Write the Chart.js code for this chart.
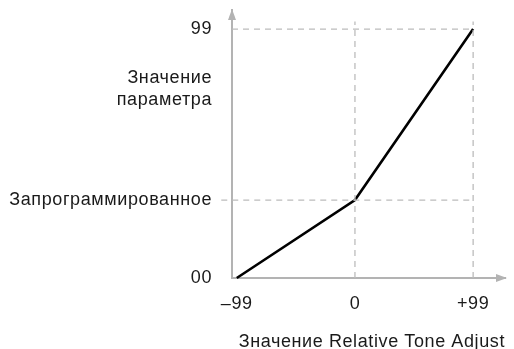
<!DOCTYPE html>
<html><head><meta charset="utf-8">
<script src="https://cdn.jsdelivr.net/npm/chart.js@4/dist/chart.umd.min.js"></script>
<style>html,body{margin:0;padding:0;background:#fff}#wrap{width:514px;height:349px}</style>
</head><body><div id="wrap"><canvas id="c" width="514" height="349"></canvas></div>
<script>
const curveX = [-99, 0, 99];
const curveY = [0, 31, 99];
const xTickValues = [-99, 0, 99];
const xTickLabels = ['–99', '0', '+99'];
const yTickValues = [0, 31, 75, 99];
const yTickLabels = ['00', 'Запрограммированное', ['Значение', 'параметра'], '99'];
const xTitle = 'Значение Relative Tone Adjust';
const guideTop = 102;
const programmedLeft = -112;

const axisGray = '#b3b3b3';
const dashGray = '#bcbcbc';
const font = {family: '"Liberation Sans", Arial, sans-serif', size: 18};

const guide = (pts) => ({data: pts, borderColor: dashGray, borderWidth: 1.3, borderDash: [6, 5], pointRadius: 0, fill: false, clip: false});

const arrows = {
  id: 'arrows',
  beforeDraw(chart) { chart.ctx.letterSpacing = '0.6px'; },
  afterDraw(chart) {
    const {ctx, chartArea: a} = chart;
    ctx.save();
    ctx.fillStyle = axisGray;
    ctx.beginPath();
    ctx.moveTo(a.left, a.top - 1); ctx.lineTo(a.left - 4, a.top + 10); ctx.lineTo(a.left + 4, a.top + 10); ctx.closePath(); ctx.fill();
    ctx.beginPath();
    ctx.moveTo(a.right + 2, a.bottom); ctx.lineTo(a.right - 9, a.bottom - 4); ctx.lineTo(a.right - 9, a.bottom + 4); ctx.closePath(); ctx.fill();
    ctx.restore();
  }
};

new Chart(document.getElementById('c'), {
  type: 'line',
  data: {
    datasets: [
      guide([{x: -103, y: curveY[2]}, {x: curveX[2], y: curveY[2]}]),
      guide([{x: programmedLeft, y: curveY[1]}, {x: curveX[2], y: curveY[1]}]),
      guide([{x: curveX[1], y: 0}, {x: curveX[1], y: guideTop}]),
      guide([{x: curveX[2], y: 0}, {x: curveX[2], y: guideTop}]),
      {data: curveX.map((x, i) => ({x, y: curveY[i]})), borderColor: '#000', borderWidth: 2.6, pointRadius: 0, fill: false, tension: 0, clip: false}
    ]
  },
  options: {
    responsive: false, animation: false,
    layout: {padding: {left: 6, right: 9, top: 10, bottom: 0}},
    plugins: {legend: {display: false}, tooltip: {enabled: false}},
    scales: {
      x: {
        type: 'linear', min: -103, max: 125.7,
        afterBuildTicks: s => { s.ticks = xTickValues.map(v => ({value: v})); },
        afterFit: s => { s.height = 71; s.paddingLeft = 0; s.paddingRight = 0; },
        ticks: {callback: (v) => xTickLabels[xTickValues.indexOf(v)], color: '#1a1a1a', font, padding: 7, maxRotation: 0, autoSkip: false},
        grid: {display: false},
        border: {color: axisGray, width: 2},
        title: {display: true, text: xTitle, align: 'end', color: '#1a1a1a', font, padding: {top: 0, bottom: -4}}
      },
      y: {
        type: 'linear', min: 0, max: 106.6,
        afterBuildTicks: s => { s.ticks = yTickValues.map(v => ({value: v})); },
        afterFit: s => { s.width = 226; s.paddingTop = 0; s.paddingBottom = 0; },
        ticks: {callback: (v) => yTickLabels[yTickValues.indexOf(v)], color: '#1a1a1a', font: {...font, lineHeight: 1.22}, padding: 12, autoSkip: false},
        grid: {display: false},
        border: {color: axisGray, width: 2}
      }
    }
  },
  plugins: [arrows]
});
</script>
</body></html>
